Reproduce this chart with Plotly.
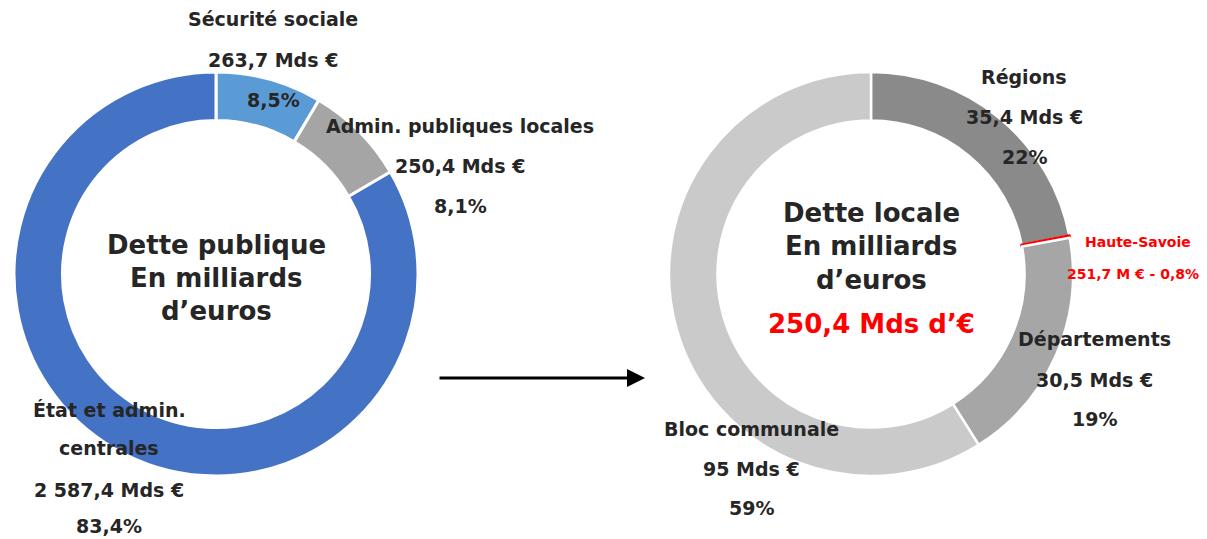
import plotly.graph_objects as go

# Left donut: dette publique
pub_labels = ["Sécurité sociale", "Admin. publiques locales", "État et admin. centrales"]
pub_values = [263.7, 250.4, 2587.4]
pub_amounts = ["263,7 Mds €", "250,4 Mds €", "2 587,4 Mds €"]
pub_pcts = ["8,5%", "8,1%", "83,4%"]
pub_colors = ["#5B9BD5", "#A5A5A5", "#4472C4"]

# Right donut: dette locale
loc_labels = ["Régions", "Haute-Savoie", "Départements", "Bloc communale"]
loc_values = [35.4, 0.2517, 30.5, 95]
loc_amounts = ["35,4 Mds €", "251,7 M €", "30,5 Mds €", "95 Mds €"]
loc_pcts = ["22%", "0,8%", "19%", "59%"]
loc_colors = ["#8A8A8A", "#FF0000", "#A6A6A6", "#CACACA"]

W, H = 1207, 539
OFF = 8  # page body margin
FONT = "DejaVu Sans"
DARK = "#262626"


def px(x, y):
    return (x - OFF) / W, 1 - (y - OFF) / H


def dom(x0, x1, y0, y1):
    a, b = px(x0, y1)
    c, d = px(x1, y0)
    return dict(x=[a, c], y=[b, d])


fig = go.Figure()
fig.add_trace(go.Pie(
    labels=pub_labels, values=pub_values, hole=0.76, sort=False,
    direction="clockwise", rotation=0, textinfo="none",
    marker=dict(colors=pub_colors, line=dict(color="white", width=3)),
    domain=dom(14, 418, 72, 476),
    showlegend=False,
))
fig.add_trace(go.Pie(
    labels=loc_labels, values=loc_values, hole=0.76, sort=False,
    direction="clockwise", rotation=0, textinfo="none",
    marker=dict(colors=loc_colors,
                line=dict(color=["white", "#FF0000", "white", "white"], width=[2.5, 3, 2.5, 2.5])),
    domain=dom(669, 1073, 72, 476),
    showlegend=False,
))


def label(text, x, y, size=19, color=DARK):
    ax, ay = px(x, y)
    fig.add_annotation(x=ax, y=ay, xref="paper", yref="paper", text="<b>" + text + "</b>",
                       showarrow=False, xanchor="center", yanchor="middle",
                       font=dict(family=FONT, size=size, color=color))


# label blocks: x and y of name, amount, pct
pub_pos = [(273, [19, 60, 100]), (460, [126, 166, 206])]
for i, (x, ys) in enumerate(pub_pos):
    label(pub_labels[i], x, ys[0])
    label(pub_amounts[i], x, ys[1])
    label(pub_pcts[i], x, ys[2])
name1, name2 = pub_labels[2].rsplit(" ", 1)
label(name1, 109, 410)
label(name2, 109, 448)
label(pub_amounts[2], 109, 490)
label(pub_pcts[2], 109, 526)

loc_pos = [(1024, [77, 117, 157]), None, (1094, [339, 380, 419]), (751, [429, 469, 508])]
for i, p in enumerate(loc_pos):
    if p is None:
        continue
    x, ys = p
    label(loc_labels[i], x, ys[0])
    label(loc_amounts[i], x, ys[1])
    label(loc_pcts[i], x, ys[2])

label(loc_labels[1], 1138, 242, size=14, color="#FF0000")
label(loc_amounts[1] + " - " + loc_pcts[1], 1133, 274, size=14, color="#FF0000")

# centre titles
for txt, y in [("Dette publique", 245), ("En milliards", 278), ("d’euros", 311)]:
    label(txt, 216, y, size=26)
for txt, y in [("Dette locale", 213), ("En milliards", 246), ("d’euros", 280)]:
    label(txt, 871, y, size=26)
label("250,4 Mds d’€", 871, 324, size=26, color="#FF0000")

# arrow between the two donuts
x1, y1 = px(645, 378)
fig.add_annotation(x=x1, y=y1, xref="paper", yref="paper", ax=-207, ay=0,
                   showarrow=True, arrowhead=2, arrowsize=1.2, arrowwidth=3,
                   arrowcolor="black", text="")

fig.update_layout(width=W, height=H, margin=dict(l=0, r=0, t=0, b=0),
                  paper_bgcolor="white", plot_bgcolor="white")
fig.write_html("out.html")
